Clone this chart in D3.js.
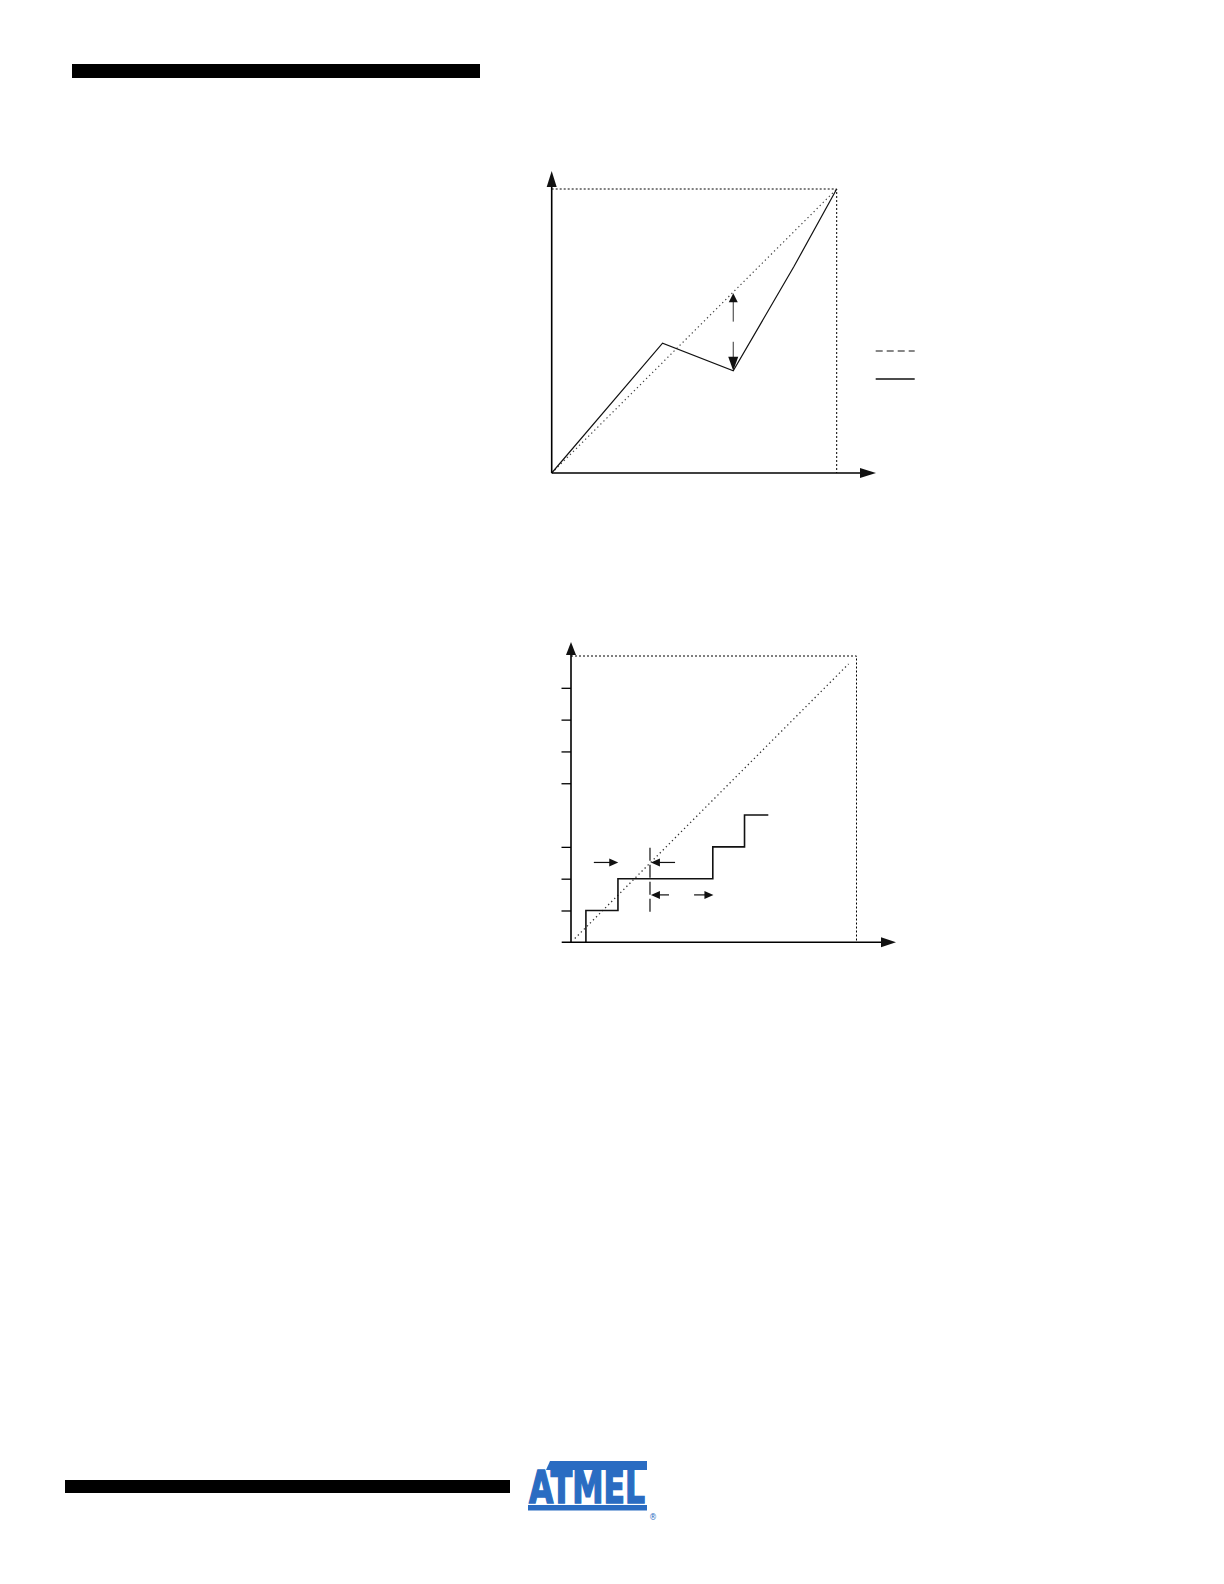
<!DOCTYPE html>
<html>
<head>
<meta charset="utf-8">
<script src="https://cdn.jsdelivr.net/npm/d3@7/dist/d3.min.js"></script>
<style>
  html, body { margin: 0; padding: 0; background: #fff; }
  svg { display: block; }
</style>
</head>
<body>
<svg id="page" width="1224" height="1584"></svg>
<script>
// ---------- DATA ----------
// Chart 1 (normalised 0..1 on both axes)
const idealLine1 = [[0, 0], [1, 1]];
const actualCurve = [[0, 0], [0.389, 0.457], [0.637, 0.36], [0.85, 0.727], [1, 1]];
const gapArrowX = 0.637;
const gapArrowUp = [0.533, 0.633];   // tail, tip
const gapArrowDown = [0.462, 0.36];  // tail, tip

// Chart 2 (units of one LSB, 0..9)
const stepXs = [0.47, 0.47, 1.48, 4.47, 5.47, 6.22];
const stepYs = [0, 1, 2, 3, 4, 4];
const yTickValues = [1, 2, 3, 5, 6, 7, 8];
const idealLine2 = [[0.12, 0.12], [8.75, 8.75]];
const markerX = 2.49;
const markerY = [0.96, 3.1];
const hArrows = [
  { y: 2.51, from: 0.72, to: 1.49 },
  { y: 2.51, from: 3.28, to: 2.52 },
  { y: 1.49, from: 3.09, to: 2.52 },
  { y: 1.49, from: 3.88, to: 4.49 }
];

// ---------- DRAW ----------
const svg = d3.select("#page");

function arrowHead(g, tipX, tipY, dir, len, wid) {
  let pts;
  if (dir === "up") pts = [[tipX, tipY], [tipX - wid / 2, tipY + len], [tipX + wid / 2, tipY + len]];
  if (dir === "down") pts = [[tipX, tipY], [tipX - wid / 2, tipY - len], [tipX + wid / 2, tipY - len]];
  if (dir === "left") pts = [[tipX, tipY], [tipX + len, tipY - wid / 2], [tipX + len, tipY + wid / 2]];
  if (dir === "right") pts = [[tipX, tipY], [tipX - len, tipY - wid / 2], [tipX - len, tipY + wid / 2]];
  g.append("path").attr("d", "M" + pts.map(p => p.join(",")).join("L") + "Z").attr("fill", "#111");
}

// Header / footer bars
svg.append("rect").attr("x", 72).attr("y", 64).attr("width", 408).attr("height", 14).attr("fill", "#000");
svg.append("rect").attr("x", 65).attr("y", 1480).attr("width", 445).attr("height", 13).attr("fill", "#000");

// ---------- Chart 1 ----------
{
  const x = d3.scaleLinear().domain([0, 1]).range([551.7, 836.7]);
  const y = d3.scaleLinear().domain([0, 1]).range([473, 189]);
  const g = svg.append("g");
  const line = d3.line().x(d => x(d[0])).y(d => y(d[1]));

  g.append("path").attr("d", line([[0, 1], [1, 1], [1, 0]]))
    .attr("fill", "none").attr("stroke", "#000").attr("stroke-width", 1).attr("stroke-dasharray", "2,2");
  g.append("path").attr("d", line(idealLine1))
    .attr("fill", "none").attr("stroke", "#444").attr("stroke-width", 1.2).attr("stroke-dasharray", "1.3,3");
  g.append("path").attr("d", line(actualCurve))
    .attr("fill", "none").attr("stroke", "#111").attr("stroke-width", 1.2);

  g.append("line").attr("x1", x(0)).attr("y1", y(0)).attr("x2", x(0)).attr("y2", 182)
    .attr("stroke", "#000").attr("stroke-width", 1.6);
  arrowHead(g, x(0), 171, "up", 16, 10);
  g.append("line").attr("x1", x(0)).attr("y1", y(0)).attr("x2", 862).attr("y2", y(0))
    .attr("stroke", "#000").attr("stroke-width", 1.6);
  arrowHead(g, 876, y(0), "right", 16, 10);

  g.append("line").attr("x1", x(gapArrowX)).attr("x2", x(gapArrowX))
    .attr("y1", y(gapArrowUp[0])).attr("y2", y(gapArrowUp[1]) + 6)
    .attr("stroke", "#333").attr("stroke-width", 1);
  arrowHead(g, x(gapArrowX), y(gapArrowUp[1]), "up", 9, 9);
  g.append("line").attr("x1", x(gapArrowX)).attr("x2", x(gapArrowX))
    .attr("y1", y(gapArrowDown[0])).attr("y2", y(gapArrowDown[1]) - 6)
    .attr("stroke", "#333").attr("stroke-width", 1);
  arrowHead(g, x(gapArrowX), y(gapArrowDown[1]), "down", 14, 10);

  const lx = x(1) + 39;
  g.append("line").attr("x1", lx).attr("x2", lx + 39).attr("y1", 351).attr("y2", 351)
    .attr("stroke", "#111").attr("stroke-width", 1.2).attr("stroke-dasharray", "7,4");
  g.append("line").attr("x1", lx).attr("x2", lx + 39).attr("y1", 379).attr("y2", 379)
    .attr("stroke", "#111").attr("stroke-width", 1.3);
}

// ---------- Chart 2 ----------
{
  const x = d3.scaleLinear().domain([0, 9]).range([571, 856.5]);
  const y = d3.scaleLinear().domain([0, 9]).range([942.3, 656]);
  const g = svg.append("g");
  const line = d3.line().x(d => x(d[0])).y(d => y(d[1]));

  g.append("path").attr("d", line([[0, 9], [9, 9], [9, 0]]))
    .attr("fill", "none").attr("stroke", "#000").attr("stroke-width", 1).attr("stroke-dasharray", "2,2");
  g.append("path").attr("d", line(idealLine2))
    .attr("fill", "none").attr("stroke", "#333").attr("stroke-width", 1.3).attr("stroke-dasharray", "1.3,3");

  const stairs = stepXs.map((v, i) => [v, stepYs[i]]);
  g.append("path").attr("d", d3.line().x(d => x(d[0])).y(d => y(d[1])).curve(d3.curveStepAfter)(stairs))
    .attr("fill", "none").attr("stroke", "#111").attr("stroke-width", 1.6);

  const yAxis = d3.axisLeft(y).tickValues(yTickValues).tickSize(9.5).tickFormat("");
  const ya = g.append("g").attr("transform", `translate(${x(0)},0)`).call(yAxis);
  ya.select(".domain").remove();
  ya.selectAll(".tick line").attr("stroke", "#000").attr("stroke-width", 1.3);

  g.append("line").attr("x1", x(0)).attr("y1", y(0)).attr("x2", x(0)).attr("y2", 652)
    .attr("stroke", "#000").attr("stroke-width", 1.6);
  arrowHead(g, x(0), 642, "up", 13, 10);
  g.append("line").attr("x1", 561.7).attr("y1", y(0)).attr("x2", 882).attr("y2", y(0))
    .attr("stroke", "#000").attr("stroke-width", 1.6);
  arrowHead(g, 896, y(0), "right", 15, 10);

  g.append("line").attr("x1", x(markerX)).attr("x2", x(markerX))
    .attr("y1", y(markerY[0])).attr("y2", y(markerY[1]))
    .attr("stroke", "#111").attr("stroke-width", 1.2).attr("stroke-dasharray", "13,4");

  hArrows.forEach(a => {
    const dir = a.to > a.from ? "right" : "left";
    const tip = x(a.to);
    const back = dir === "right" ? tip - 6 : tip + 6;
    g.append("line").attr("x1", x(a.from)).attr("x2", back).attr("y1", y(a.y)).attr("y2", y(a.y))
      .attr("stroke", "#111").attr("stroke-width", 1.2);
    arrowHead(g, tip, y(a.y), dir, 9, 8);
  });
}

// ---------- Logo ----------
{
  const blue = "#2a6cc2";
  const g = svg.append("g");
  g.append("path").attr("d", "M550,1461 L647,1461 L647,1470 L546,1470 Z").attr("fill", blue);
  g.append("text").attr("x", 529).attr("y", 1503)
    .attr("font-family", "'DejaVu Sans', sans-serif").attr("font-weight", "bold")
    .attr("font-size", 44).attr("textLength", 116).attr("lengthAdjust", "spacingAndGlyphs")
    .attr("fill", blue).attr("stroke", blue).attr("stroke-width", 1.6).text("ATMEL");
  g.append("rect").attr("x", 528).attr("y", 1505).attr("width", 119).attr("height", 5.5).attr("fill", blue);
  g.append("text").attr("x", 649).attr("y", 1520).attr("font-family", "'DejaVu Sans', sans-serif")
    .attr("font-size", 8).attr("fill", blue).text("®");
}
</script>
</body>
</html>
